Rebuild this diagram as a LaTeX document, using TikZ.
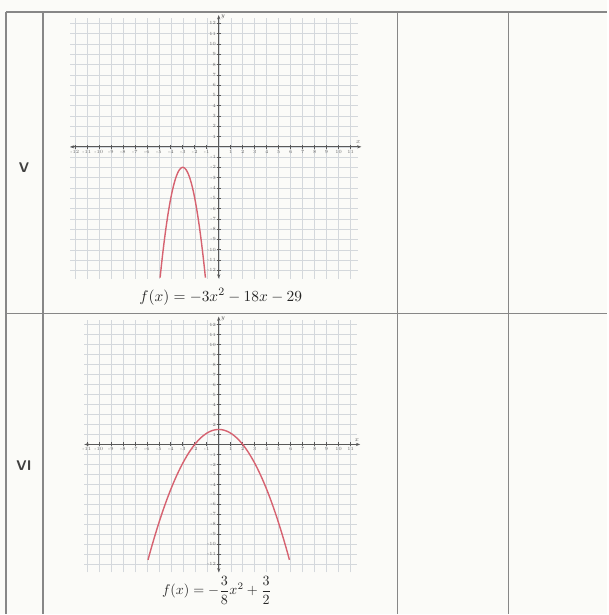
\documentclass[tikz,border=0pt]{standalone}
\usepackage{fontspec}
\usepackage{amsmath}
\usetikzlibrary{arrows.meta}

\definecolor{paper}{RGB}{251,251,248}
\definecolor{rulec}{RGB}{135,135,135}
\definecolor{gridc}{RGB}{212,216,220}
\definecolor{curvec}{RGB}{214,98,112}

\begin{document}
\begin{tikzpicture}[
  x=0.025cm, y=-0.025cm,
  tableline/.style={draw=rulec, line width=1.1pt},
  rowlab/.style={font=\sffamily\bfseries, text=black!75},
  gridline/.style={draw=gridc, line width=0.3pt, step={(1,1)}},
  axisline/.style={draw=black!65, line width=0.6pt, {Stealth[length=3pt]}-{Stealth[length=3pt]}},
  tickmark/.style={draw=black!65, line width=0.4pt},
  ticklab/.style={font=\fontsize{3.4}{3.4}\selectfont, text=black!60, inner sep=0.6pt},
  axislab/.style={font=\fontsize{4.5}{4.5}\selectfont\itshape, text=black!70, inner sep=0.5pt},
  parab/.style={draw=curvec, line width=1pt},
  formula/.style={text=black!85}
]
% page and table
\fill[paper] (0,0) rectangle (608,615);
\draw[tableline] (6,12) -- (608,12);
\draw[tableline] (6,314) -- (608,314);
\foreach \xx in {6,43,398,509}
  \draw[tableline] (\xx,12) -- (\xx,615);

\node[rowlab] (labV) at (24,168) {V};
\node[rowlab] (labVI) at (24,466) {VI};

% graph of row V
\coordinate (o1) at (219,147);
\begin{scope}[shift={(o1)}, x=0.3cm, y=0.2575cm]
  \draw[gridline] (-12.4,-12.8) grid (11.6,12.5);
  \draw[axisline] (-12.4,0) -- (11.9,0);
  \draw[axisline] (0,-12.8) -- (0,12.8);
  \foreach \k [count=\i] in {-12,...,-1,1,2,...,11} {
    \draw[tickmark] (\k,-0.2) -- (\k,0.2);
    \node[ticklab, below] (g1x\i) at (\k,-0.2) {\k};
  }
  \foreach \k [count=\i] in {-12,...,-1,1,2,...,12} {
    \draw[tickmark] (-0.15,\k) -- (0.15,\k);
    \node[ticklab, left] (g1y\i) at (-0.15,\k) {\k};
  }
  \node[axislab, above] (g1xl) at (11.6,0.2) {x};
  \node[axislab, right] (g1yl) at (0.1,12.6) {y};
  \draw[parab] plot[domain=-4.89:-1.11, samples=60] (\x, {-3*(\x+3)^2-2});
\end{scope}
\node[formula] (f1) at (221,297) {\fontsize{11}{13}\selectfont$f(x)=-3x^2-18x-29$};

% graph of row VI
\coordinate (o2) at (219,445);
\begin{scope}[shift={(o2)}, x=0.3cm, y=0.25cm]
  \draw[gridline] (-11.2,-12.8) grid (11.5,12.5);
  \draw[axisline] (-11.2,0) -- (11.8,0);
  \draw[axisline] (0,-12.8) -- (0,12.8);
  \foreach \k [count=\i] in {-11,...,-1,1,2,...,11} {
    \draw[tickmark] (\k,-0.2) -- (\k,0.2);
    \node[ticklab, below] (g2x\i) at (\k,-0.2) {\k};
  }
  \foreach \k [count=\i] in {-12,...,-1,1,2,...,12} {
    \draw[tickmark] (-0.15,\k) -- (0.15,\k);
    \node[ticklab, left] (g2y\i) at (-0.15,\k) {\k};
  }
  \node[axislab, above] (g2xl) at (11.5,0.2) {x};
  \node[axislab, right] (g2yl) at (0.1,12.6) {y};
  \draw[parab] plot[domain=-5.9:5.9, samples=80] (\x, {-3/8*\x*\x+3/2});
\end{scope}
\node[formula] (f2) at (217,591) {$f(x)=-\dfrac{3}{8}x^2+\dfrac{3}{2}$};
\end{tikzpicture}
\end{document}
